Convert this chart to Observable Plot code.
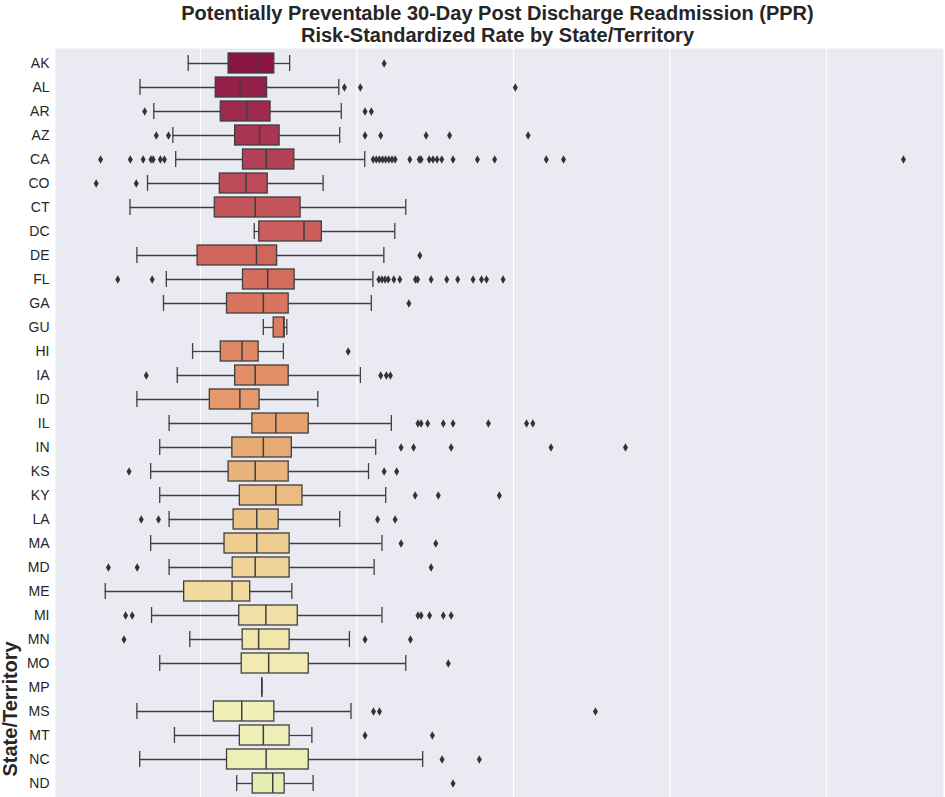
<!DOCTYPE html>
<html>
<head>
<meta charset="utf-8">
<script src="https://cdn.jsdelivr.net/npm/d3@7"></script>
<script src="https://cdn.jsdelivr.net/npm/@observablehq/plot@0.6"></script>
<style>
  body { margin: 0; background: #fff; font-family: "Liberation Sans", Arial, sans-serif; }
  #wrap { position: relative; width: 945px; }
  h1 { margin: 0; height: 48px; padding-top: 2px; box-sizing: border-box; font-size: 20px; line-height: 22px; text-align: center; padding-left: 50px; color: #262626; }
  #ylab { position: absolute; left: -50px; top: 705px; width: 120px; transform: rotate(-90deg); font-weight: bold; font-size: 20px; color: #262626; text-align: center; }
</style>
</head>
<body>
<div id="wrap">
  <h1>Potentially Preventable 30-Day Post Discharge Readmission (PPR)<br>Risk-Standardized Rate by State/Territory</h1>
  <div id="ylab">State/Territory</div>
  <div id="chart"></div>
</div>
<script>
const states = ["AK","AL","AR","AZ","CA","CO","CT","DC","DE","FL","GA","GU","HI","IA","ID","IL","IN","KS","KY","LA","MA","MD","ME","MI","MN","MO","MP","MS","MT","NC","ND"];
const whiskLo = [9.61,8.07,8.51,9.12,9.21,8.31,7.75,11.72,7.97,8.91,8.82,12.01,9.75,9.26,7.97,9.00,8.70,8.41,8.70,9.00,8.41,9.00,6.96,8.44,9.66,8.70,11.96,7.97,9.17,8.06,11.16];
const q1 = [10.90,10.49,10.65,11.11,11.36,10.62,10.46,11.88,9.91,11.36,10.85,12.34,10.65,11.11,10.30,11.66,11.02,10.90,11.26,11.06,10.77,11.03,9.48,11.24,11.35,11.32,11.96,10.43,11.26,10.85,11.67];
const median = [11.88,11.26,11.48,11.89,12.10,11.46,11.75,13.31,11.79,12.15,12.01,12.66,11.33,11.75,11.26,12.41,12.01,11.75,12.41,11.80,11.80,11.75,11.01,12.09,11.86,12.18,11.96,11.32,12.01,12.10,12.31];
const q3 = [12.36,12.13,12.24,12.53,13.00,12.15,13.20,13.88,12.45,13.01,12.82,12.69,11.86,12.82,11.89,13.46,12.92,12.82,13.26,12.50,12.85,12.85,11.59,13.11,12.85,13.46,11.96,12.36,12.85,13.46,12.69];
const whiskHi = [12.85,14.42,14.50,14.45,15.25,13.92,16.56,16.21,15.86,15.51,15.46,12.76,12.65,15.11,13.75,16.10,15.60,15.37,15.92,14.45,15.80,15.55,12.92,15.80,14.76,16.56,11.96,14.81,13.56,17.10,13.60];
const outliers = [
  [15.87],
  [14.60,15.11,20.06],
  [8.22,15.26,15.46],
  [8.59,8.98,15.26,15.76,17.21,17.96,20.47],
  [6.81,7.76,8.17,8.42,8.49,8.72,8.85,15.52,15.62,15.72,15.82,15.92,16.02,16.12,16.22,16.69,16.99,17.05,17.31,17.43,17.56,17.71,18.07,18.85,19.40,21.05,21.60,32.46],
  [6.67,7.95],
  [],
  [],
  [17.01],
  [7.36,8.46,15.70,15.80,15.90,16.00,16.18,16.37,16.87,16.94,17.37,17.87,18.22,18.71,18.98,19.14,19.67],
  [16.66],
  [],
  [14.72],
  [8.27,15.76,15.94,16.07],
  [],
  [16.95,17.05,17.26,17.76,18.07,19.20,20.42,20.62],
  [16.41,16.81,18.01,21.20,23.58],
  [7.72,15.87,16.27],
  [16.86,17.60,19.55],
  [8.11,8.66,15.66,16.22],
  [16.41,17.52],
  [7.06,7.98,17.37],
  [],
  [7.61,7.82,16.95,17.05,17.32,17.76,18.01],
  [7.56,15.26,16.71],
  [17.92],
  [],
  [15.53,15.72,22.62],
  [15.26,17.41],
  [17.72,18.91],
  [18.07]
];
const gridValues = [10, 15, 20, 25, 30];

// seaborn Spectral palette over all 55 states/territories, desaturated
const nTotal = 55;
const colorOf = i => { const c = d3.hsl(d3.interpolateSpectral(i / (nTotal - 1))); c.s *= 0.75; return c.formatHex(); };

const boxes = states.map((s, i) => ({state: s, lo: whiskLo[i], q1: q1[i], med: median[i], q3: q3[i], hi: whiskHi[i], color: colorOf(i)}));
const outs = states.flatMap((s, i) => outliers[i].map(v => ({state: s, v})));
const edge = "#3f3f3f";

const chart = Plot.plot({
  width: 945,
  height: 749,
  marginLeft: 55,
  marginRight: 2,
  marginTop: 0,
  marginBottom: 0,
  style: {fontFamily: "'Liberation Sans', Arial, sans-serif", fontSize: "14px", color: "#262626", background: "transparent"},
  x: {domain: [5.37, 33.74], axis: null},
  y: {domain: states, padding: 0.18, align: 0.5, label: null, tickSize: 0, tickPadding: 6},
  marks: [
    Plot.frame({fill: "#eaeaf2", stroke: null}),
    Plot.ruleX(gridValues, {stroke: "#fff", strokeWidth: 1.2}),
    Plot.ruleY(boxes, {y: "state", x1: "lo", x2: "q1", stroke: edge, strokeWidth: 1.3}),
    Plot.ruleY(boxes, {y: "state", x1: "q3", x2: "hi", stroke: edge, strokeWidth: 1.3}),
    Plot.tickX(boxes, {y: "state", x: "lo", stroke: edge, strokeWidth: 1.3, insetTop: 2, insetBottom: 2}),
    Plot.tickX(boxes, {y: "state", x: "hi", stroke: edge, strokeWidth: 1.3, insetTop: 2, insetBottom: 2}),
    Plot.barX(boxes, {y: "state", x1: "q1", x2: "q3", fill: "color", stroke: edge, strokeWidth: 1.3}),
    Plot.tickX(boxes, {y: "state", x: "med", stroke: edge, strokeWidth: 1.5}),
    Plot.dot(outs, {y: "state", x: "v", symbol: "diamond", r: 2.6, fill: "#333", stroke: null})
  ]
});
document.getElementById("chart").append(chart);
</script>
</body>
</html>
